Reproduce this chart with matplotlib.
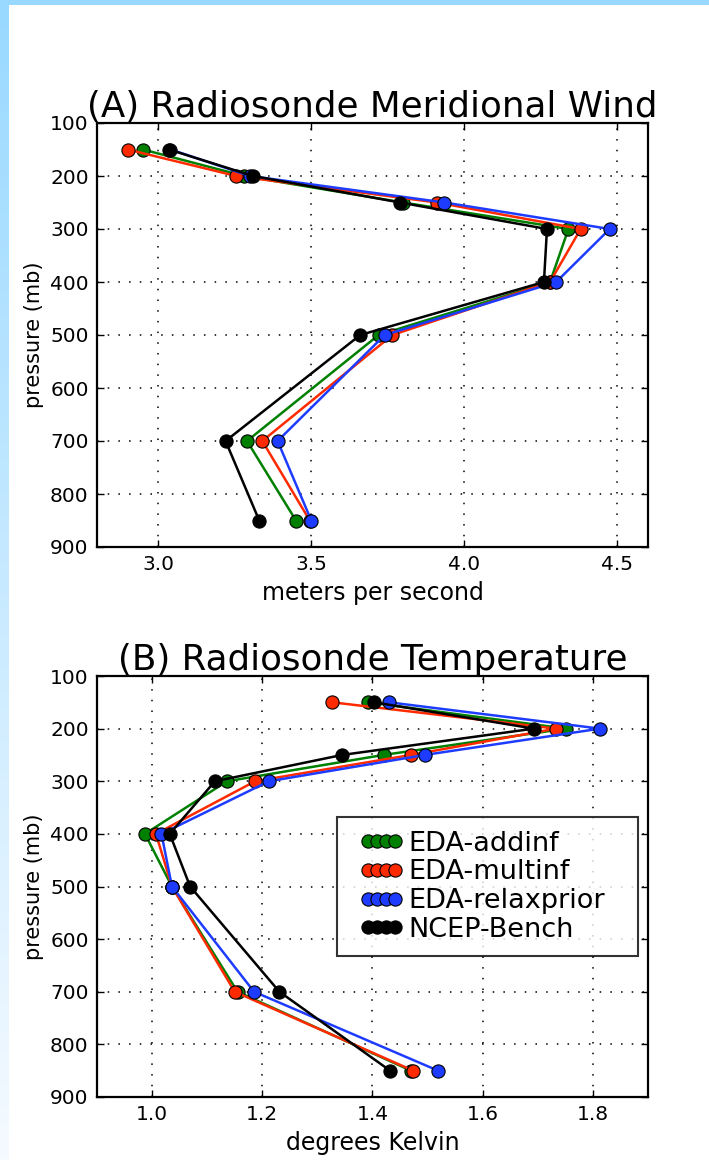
import numpy as np
import matplotlib
matplotlib.use("Agg")
import matplotlib.pyplot as plt
from matplotlib.patches import Rectangle
from matplotlib.legend_handler import HandlerLine2D

plt.rcParams['font.family'] = ['DejaVu Sans']

levels = [150, 200, 250, 300, 400, 500, 700, 850]
series_names = ["EDA-addinf", "EDA-multinf", "EDA-relaxprior", "NCEP-Bench"]
colors = ["#008000", "#ff2a00", "#1e3cff", "#000000"]

wind_addinf = [2.95, 3.28, 3.80, 4.34, 4.28, 3.72, 3.29, 3.45]
wind_multinf = [2.90, 3.255, 3.91, 4.38, 4.28, 3.765, 3.34, 3.495]
wind_relaxprior = [3.04, 3.30, 3.935, 4.475, 4.30, 3.74, 3.39, 3.50]
wind_ncep = [3.035, 3.31, 3.79, 4.27, 4.26, 3.66, 3.22, 3.33]

temp_addinf = [1.392, 1.751, 1.42, 1.136, 0.987, 1.036, 1.155, 1.47]
temp_multinf = [1.327, 1.733, 1.47, 1.187, 1.007, 1.036, 1.15, 1.474]
temp_relaxprior = [1.43, 1.813, 1.495, 1.212, 1.017, 1.036, 1.185, 1.519]
temp_ncep = [1.403, 1.693, 1.345, 1.114, 1.032, 1.069, 1.231, 1.432]

wind_series = [wind_addinf, wind_multinf, wind_relaxprior, wind_ncep]
temp_series = [temp_addinf, temp_multinf, temp_relaxprior, temp_ncep]

W, H = 709, 1160
fig = plt.figure(figsize=(W / 100, H / 100), dpi=100)

# background decoration: top strip and left gradient strip
bg = fig.add_axes([0, 0, 1, 1], zorder=-10)
bg.set_xlim(0, W)
bg.set_ylim(0, H)
bg.axis('off')
grad = np.linspace(0, 1, 256).reshape(-1, 1)
top_c = np.array([153, 217, 255]) / 255
bot_c = np.array([245, 250, 255]) / 255
img = top_c[None, None, :] * (1 - grad[:, :, None]) + bot_c[None, None, :] * grad[:, :, None]
bg.imshow(img, extent=[0, 9, 0, H], aspect='auto', origin='upper')
bg.add_patch(Rectangle((0, H - 5), W, 5, color=top_c, lw=0))


def style_axes(ax, xlim, xticks, xlabel, title):
    ax.set_xlim(*xlim)
    ax.set_xticks(xticks)
    ax.set_ylim(900, 100)
    ax.set_yticks(np.arange(100, 901, 100))
    ax.grid(True, color='black', linestyle=(0, (1, 6)), linewidth=1.1)
    ax.tick_params(direction='in', top=True, right=True, length=5, width=1,
                   labelsize=14.5, pad=6)
    for s in ax.spines.values():
        s.set_linewidth(1.6)
    ax.set_xlabel(xlabel, fontsize=17, labelpad=5)
    ax.set_ylabel("pressure (mb)", fontsize=15, labelpad=4)
    ax.set_title(title, fontsize=25.7, pad=4)


ax1 = fig.add_axes([97 / W, 1 - 547 / H, 551 / W, 424 / H])
for vals, c, name in zip(wind_series, colors, series_names):
    ax1.plot(vals, levels, '-o', color=c, mfc=c, mec='black', mew=0.8,
             ms=9.5, lw=1.8, label=name)
style_axes(ax1, (2.8, 4.6), [3.0, 3.5, 4.0, 4.5], "meters per second",
           "(A) Radiosonde Meridional Wind")

ax2 = fig.add_axes([97 / W, 1 - 1097 / H, 551 / W, 421 / H])
lines2 = []
for vals, c, name in zip(temp_series, colors, series_names):
    ln, = ax2.plot(vals, levels, '-o', color=c, mfc=c, mec='black', mew=0.8,
                   ms=9.5, lw=1.8, label=name)
    lines2.append(ln)
style_axes(ax2, (0.9, 1.9), [1.0, 1.2, 1.4, 1.6, 1.8], "degrees Kelvin",
           "(B) Radiosonde Temperature")

handler = HandlerLine2D(numpoints=4, marker_pad=0.642)
leg = ax2.legend(handler_map={ln: handler for ln in lines2},
                 loc='upper left', bbox_to_anchor=(0.436, 0.335, 0.546, 0.33),
                 mode='expand', borderaxespad=0, fontsize=19.5,
                 handlelength=2.28, handletextpad=-0.16, labelspacing=0.1,
                 fancybox=False, borderpad=0.5)
leg.get_frame().set_edgecolor('black')
leg.get_frame().set_linewidth(1.5)

fig.savefig("out.png", dpi=100)
